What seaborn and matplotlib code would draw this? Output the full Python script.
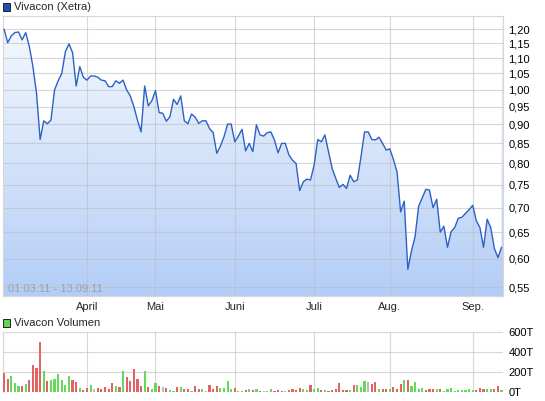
import numpy as np
import pandas as pd
import matplotlib
matplotlib.use("Agg")
import matplotlib.pyplot as plt
import seaborn as sns
from matplotlib.patches import Rectangle
from matplotlib.colors import LinearSegmentedColormap

# trading days on Xetra, 01.03.11 - 13.09.11 (Easter holidays closed)
holidays = ["2011-04-22", "2011-04-25"]
days = pd.bdate_range("2011-03-01", "2011-09-13")
days = days[~days.isin(pd.to_datetime(holidays))]

price = [
    1.200, 1.152, 1.176, 1.188, 1.190, 1.162, 1.188, 1.139, 1.072, 0.989,
    0.860, 0.910, 0.902, 0.912, 0.999, 1.027, 1.050, 1.121, 1.148, 1.118,
    1.011, 1.072, 1.038, 1.029, 1.042, 1.042, 1.038, 1.029, 1.027, 1.009,
    1.009, 1.027, 1.019, 1.029, 0.999, 0.981, 0.950, 0.912, 0.880, 1.011,
    0.952, 0.967, 0.997, 0.933, 0.931, 0.909, 0.921, 0.971, 0.956, 0.981,
    0.910, 0.902, 0.929, 0.920, 0.903, 0.910, 0.910, 0.889, 0.878, 0.825,
    0.843, 0.867, 0.901, 0.901, 0.854, 0.869, 0.887, 0.831, 0.850, 0.829,
    0.899, 0.872, 0.869, 0.878, 0.880, 0.859, 0.826, 0.850, 0.850, 0.821,
    0.808, 0.800, 0.737, 0.757, 0.763, 0.761, 0.796, 0.860, 0.854, 0.872,
    0.829, 0.788, 0.765, 0.744, 0.751, 0.742, 0.772, 0.757, 0.761, 0.816,
    0.880, 0.880, 0.860, 0.859, 0.866, 0.850, 0.833, 0.836, 0.810, 0.780,
    0.691, 0.714, 0.581, 0.614, 0.641, 0.703, 0.721, 0.740, 0.738, 0.700,
    0.718, 0.650, 0.662, 0.621, 0.651, 0.659, 0.678, 0.680, 0.688, 0.696,
    0.705, 0.673, 0.659, 0.621, 0.676, 0.659, 0.619, 0.602, 0.621,
]

# volume in thousands (T)
volume = [
    190, 129, 156, 88, 54, 54, 75, 116, 269, 238,
    497, 204, 105, 116, 129, 177, 116, 65, 156, 116,
    99, 34, 20, 34, 65, 27, 34, 27, 44, 24,
    85, 54, 48, 204, 146, 109, 228, 129, 54, 204,
    48, 27, 85, 54, 44, 34, 14, 7, 44, 44,
    24, 24, 10, 54, 27, 24, 7, 65, 27, 54,
    34, 34, 105, 24, 34, 7, 7, 14, 24, 14,
    24, 10, 7, 7, 24, 7, 14, 10, 7, 14,
    24, 14, 34, 24, 14, 65, 24, 34, 14, 14,
    7, 14, 24, 85, 14, 14, 14, 65, 65, 44,
    105, 95, 78, 95, 24, 24, 24, 24, 44, 24,
    75, 116, 116, 54, 95, 24, 34, 14, 24, 24,
    24, 24, 7, 24, 34, 7, 14, 14, 14, 24,
    14, 14, 34, 24, 24, 24, 24, 54, 14,
]

# bar colour: r = down, g = up, n = unchanged
direction = list(
    "rrgggrgrrr" "rgrggggggr" "rgrrgnrrrr" "rgrgrrrrrg" "rggrnrggrg"
    "rrgrrgnrrr" "ggggrggrgr" "grnggrrrnr" "rrrggrggrg" "rrrrrrgrgg"
    "gnrrgrrgrr" "rgrggggrrr" "grgggggggg" "grrrggrrg"
)

month_labels = ["April", "Mai", "Juni", "Juli", "Aug.", "Sep."]
price_ticks = [0.55, 0.60, 0.65, 0.70, 0.75, 0.80, 0.85, 0.90, 0.95,
               1.00, 1.05, 1.10, 1.15, 1.20]
volume_ticks = [0, 200, 400, 600]

df = pd.DataFrame({"idx": np.arange(len(days)), "price": price,
                   "volume": volume, "dir": direction})
month_pos = [i for i in range(1, len(days)) if days[i].month != days[i - 1].month]

sns.set_style("white")
plt.rcParams["font.family"] = ["Liberation Sans", "DejaVu Sans"]

W, H = 545, 401
fig = plt.figure(figsize=(W / 100, H / 100), dpi=100)


def px_axes(l, t, r, b):
    return fig.add_axes([l / W, 1 - b / H, (r - l) / W, (b - t) / H])


grid_kw = dict(color="#bdbdbd", alpha=0.6, lw=0.8)
xlim = (-0.3, len(days) - 0.6)

# ---- price panel ----
ax = px_axes(3, 16, 503, 296)
ax.set_yscale("log")
ylo, yhi = 0.536, 1.249
cmap = LinearSegmentedColormap.from_list("g", ["#b3cdf6", "#f7faff"])
ax.imshow(np.linspace(0, 1, 256).reshape(-1, 1), cmap=cmap, origin="lower",
          extent=[0, 1, 0, 1], transform=ax.transAxes, aspect="auto", zorder=0)
ax.fill_between(df["idx"], df["price"], 2.0, color="white", lw=0, zorder=1)
sns.lineplot(data=df, x="idx", y="price", ax=ax, color="#2d62c3", lw=1.0, zorder=4)
ax.set_xlim(*xlim)
ax.set_ylim(ylo, yhi)
ax.set_yticks(price_ticks)
ax.set_yticklabels([f"{v:.2f}".replace(".", ",") for v in price_ticks])
ax.yaxis.set_minor_locator(matplotlib.ticker.NullLocator())
ax.yaxis.tick_right()
ax.tick_params(axis="y", length=0, pad=4, labelsize=8, colors="black")
ax.set_xticks(month_pos)
ax.set_xticklabels(month_labels)
ax.tick_params(axis="x", length=3, pad=1, labelsize=8, color="#c8c8c8")
for p in month_pos:
    ax.axvline(p, zorder=2, **grid_kw)
for v in price_ticks:
    ax.axhline(v, zorder=2, **grid_kw)
ax.set_xlabel("")
ax.set_ylabel("")
for s in ax.spines.values():
    s.set_color("#d6d6d6")
    s.set_linewidth(0.8)
ax.text(0.01, 0.025, "01.03.11 - 13.09.11", transform=ax.transAxes,
        fontsize=8, color="#a0a0a0", va="center", ha="left", zorder=5)

# ---- volume panel ----
ax2 = px_axes(3, 332, 503, 391.5)
palette = {"r": "#e06464", "g": "#66d95a", "n": "#bcbcbc"}
ax2.bar(df["idx"], df["volume"], width=0.6,
        color=[palette[d] for d in df["dir"]], lw=0, zorder=3)
ax2.set_xlim(*xlim)
ax2.set_ylim(0, 600)
ax2.set_yticks(volume_ticks)
ax2.set_yticklabels([f"{v}T" for v in volume_ticks])
ax2.yaxis.tick_right()
ax2.tick_params(axis="y", length=0, pad=4, labelsize=8, colors="black")
ax2.set_xticks(month_pos)
ax2.set_xticklabels([])
ax2.tick_params(axis="x", length=0)
for p in month_pos:
    ax2.axvline(p, zorder=1, **grid_kw)
for v in volume_ticks:
    ax2.axhline(v, zorder=1, **grid_kw)
for s in ax2.spines.values():
    s.set_visible(False)
ax2.spines["left"].set_visible(True)
ax2.spines["left"].set_color("#d6d6d6")

# ---- legends ----
def legend_box(x, y, color, label):
    fig.add_artist(Rectangle((x / W, 1 - (y + 8) / H), 7 / W, 8 / H,
                             transform=fig.transFigure, facecolor=color,
                             edgecolor="#222222", lw=0.7))
    fig.text((x + 11) / W, 1 - (y + 4) / H, label, fontsize=8,
             va="center", ha="left")


legend_box(3, 3, "#1f4fb4", "Vivacon (Xetra)")
legend_box(3, 319, "#5fd656", "Vivacon Volumen")

fig.savefig("out.png", dpi=100)
